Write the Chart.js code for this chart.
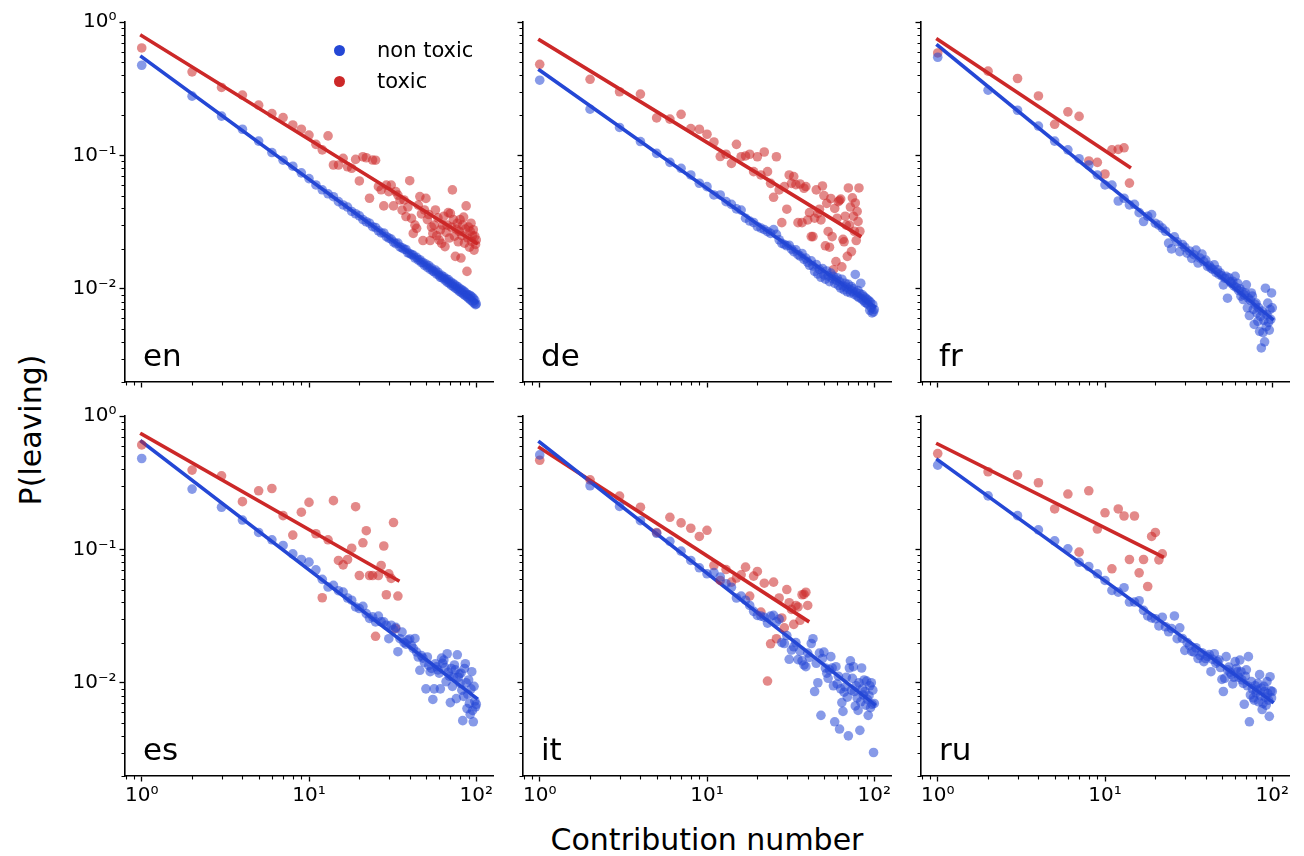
<!DOCTYPE html>
<html>
<head>
<meta charset="utf-8">
<script src="https://cdn.jsdelivr.net/npm/chart.js@4.4.0/dist/chart.umd.min.js"></script>
<style>
  body { margin: 0; background: #fff; }
  #fig { position: relative; width: 1304px; height: 856px; overflow: hidden; font-family: 'DejaVu Sans', sans-serif; color: #000; }
  #fig canvas { position: absolute; }
  .lang { position: absolute; font-size: 31px; line-height: 1; white-space: nowrap; }
  #ylabel { position: absolute; left: 31px; top: 430px; font-size: 30px; line-height: 1; white-space: nowrap; transform: translate(-50%, -50%) rotate(-90deg); }
  #xlabel { position: absolute; left: 707px; top: 825px; font-size: 30px; line-height: 1; white-space: nowrap; transform: translateX(-50%); }
  .leg-dot { position: absolute; width: 11px; height: 11px; border-radius: 50%; }
  .leg-text { position: absolute; font-size: 21px; line-height: 1; white-space: nowrap; }
</style>
</head>
<body>
<div id="fig">
  <div id="ylabel">P(leaving)</div>
  <div id="xlabel">Contribution number</div>
</div>
<script>
// panels, in reading order
const languages = ['en', 'de', 'fr', 'es', 'it', 'ru'];
const seriesNames = ['non toxic', 'toxic'];

// P(leaving) at contribution 1, 2, 3, ... (one value per contribution number)
const nonToxicEn = [
  .474, .278, .197, .157, .128, .105, .092, .083, .074, .067,
  .0600, .0552, .0515, .0490, .0450, .0425, .0410, .0380, .0365, .0352,
  .0330, .0318, .0310, .0292, .0288, .0272, .0262, .0262, .0246, .0240,
  .0236, .0224, .0218, .0220, .0206, .0203, .0198, .0197, .0186, .0184,
  .0180, .0179, .0170, .0172, .0164, .0165, .0157, .0158, .0150, .0153,
  .0145, .0149, .0140, .0143, .0136, .0134, .0138, .0129, .0133, .0126,
  .0122, .0126, .0120, .0123, .0116, .0119, .0112, .0117, .0110, .0113,
  .0106, .0110, .0104, .0108, .0101, .0105, .0099, .0103, .0096, .0100,
  .0094, .0098, .0092, .0096, .0090, .0094, .0088, .0091, .0086, .0090,
  .0084, .0089, .0082, .0087, .0080, .0085, .0078, .0082, .0076, .0077
];
const toxicEn = [
  .639, .423, .323, .283, .238, .206, .192, .169, .157, .142,
  .121, .110, .140, .0847, .0847, .095, .0822, .080, .0933, .0643,
  .0977, .0960, .0477, .0923, .0920, .0583, .0552, .0418, .0598, .0535,
  .0598, .0418, .0535, .0504, .0463, .0389, .0463, .0348, .0410, .0646,
  .0337, .0260, .0300, .0284, .0424, .0491, .0364, .0230, .0390, .0476,
  .0330, .0360, .0230, .0290, .0260, .0300, .0390, .0250, .0340, .0232,
  .0276, .0219, .0300, .0350, .0207, .0265, .0300, .0372, .0240, .0367,
  .0290, .0551, .0330, .0248, .0175, .0280, .0310, .0225, .0270, .0330,
  .0170, .0250, .0300, .0345, .0220, .0280, .0418, .0135, .0240, .0290,
  .0205, .0270, .0310, .0226, .0250, .0277, .0195, .0248, .0215, .0232
];
const nonToxicDe = [
  .366, .222, .162, .127, .1035, .0887, .080, .0713, .0618, .0583,
  .0505, .0505, .045, .0429, .0397, .0389, .0338, .0322, .0314, .0293,
  .0285, .0278, .0268, .0260, .0278, .0256, .0233, .0219, .0215, .0210,
  .0212, .0198, .0190, .0196, .0180, .0176, .0184, .0166, .0170, .0158,
  .0150, .0162, .0148, .0135, .0152, .0129, .0140, .0122, .0142, .0127,
  .0118, .0136, .0125, .0113, .0131, .0119, .0124, .0110, .0116, .0121,
  .0106, .0113, .0101, .0118, .0105, .0098, .0110, .0103, .0095, .0108,
  .0099, .0093, .0104, .0096, .0100, .0091, .0128, .0094, .0088, .0097,
  .0086, .0092, .0110, .0084, .0090, .0082, .0087, .0079, .0085, .0078,
  .0083, .0076, .0081, .0069, .0079, .0072, .0066, .0076, .0067, .0070
];
const toxicDe = [
  .482, .372, .300, .288, .191, .187, .203, .159, .157, .144,
  .126, .098, .102, .0871, .121, .0977, .099, .102, .0755, .0977,
  .0713, .106, .0755, .0617, .0485, .0977, .0551, .0313, .0584, .0395,
  .0713, .0617, .0694, .0603, .0313, .0610, .0313, .0567, .0584, .0328,
  .0372, .0246, .0246, .0338, .0551, .0368, .0395, .0328, .0590, .0500,
  .0210, .0437, .0269, .0205, .0475, .0246, .0139, .0400, .0160, .0338,
  .0450, .0460, .0470, .0146, .0235, .0225, .0350, .0300, .0175, .0570,
  .0300, .0410, .0190, .0480, .0350, .0270, .0440, .0230, .0380, .0320,
  .0570, .0270
];
const nonToxicFr = [
  .544, .308, .218, .166, .128, .110, .0944, .0847, .0713, .060,
  .0598, .0455, .0477, .0425, .0430, .0372, .0319, .0350, .0360, .0310,
  .0300, .0285, .0270, .0220, .0199, .0245, .0225, .0190, .0215, .0205,
  .0185, .0192, .0169, .0180, .0195, .0156, .0170, .0182, .0160, .0164,
  .0147, .0150, .0143, .0140, .0151, .0133, .0139, .0128, .0131, .0125,
  .0107, .0120, .0124, .0085, .0121, .0113, .0110, .0114, .0105, .0124,
  .0102, .0110, .0097, .0100, .0088, .0095, .0083, .0090, .0093, .0107,
  .0072, .0085, .0063, .0082, .0093, .0088, .0070, .0054, .0076, .0078,
  .0066, .0057, .0072, .0048, .0062, .0036, .0068, .0047, .0058, .0040,
  .0101, .0052, .0064, .0078, .0056, .0049, .0070, .0059, .0093, .0072
];
const toxicFr = [
  .586, .428, .377, .279, .171, .212, .196, .0908, .0887, .0725,
  .110, .111, .114, .062
];
const nonToxicEs = [
  .480, .283, .207, .166, .134, .118, .107, .0925, .0840, .0802,
  .0703, .0596, .0522, .0537, .0490, .0479, .0432, .0416, .0370, .0360,
  .0374, .0330, .0304, .0312, .0286, .0316, .0286, .0286, .0270, .0214,
  .0270, .0250, .0260, .0171, .0214, .0240, .0200, .0195, .0209, .0213,
  .0190, .0181, .0215, .0170, .0156, .0124, .0160, .0153, .0142, .0090,
  .0156, .0135, .0121, .0128, .0075, .0090, .0139, .0132, .0125, .0118,
  .0090, .0153, .0140, .0148, .0130, .0102, .0165, .0120, .0112, .0071,
  .0128, .0094, .0110, .0136, .0125, .0076, .0162, .0110, .0116, .0099,
  .0118, .0088, .0052, .0079, .0128, .0139, .0100, .0064, .0082, .0105,
  .0070, .0058, .0090, .0121, .0062, .0051, .0094, .0073, .0066, .0069
];
const toxicEs = [
  .607, .393, .356, .228, .275, .286, .179, .128, .190, .225,
  .131, .0434, .118, .232, .0826, .0766, .0840, .102, .209, .0637,
  .112, .138, .0637, .0637, .0223, .0637, .0757, .106, .0457, .0656,
  .0606, .159, .0255, .0447
];
const nonToxicIt = [
  .511, .300, .210, .164, .132, .115, .097, .0826, .0728, .0656,
  .0670, .0621, .0553, .0520, .0432, .0447, .0416, .0380, .0343, .0320,
  .0316, .0310, .0280, .0316, .0320, .0286, .0300, .0200, .0197, .0226,
  .0150, .0176, .0186, .0200, .0149, .0173, .0146, .0136, .0132, .0167,
  .0155, .0197, .0214, .0086, .0140, .0100, .0167, .0057, .0152, .0170,
  .0129, .0118, .0108, .0125, .0157, .0129, .0095, .0051, .0132, .0098,
  .0112, .0045, .0090, .0071, .0061, .0085, .0093, .0110, .0078, .0040,
  .0129, .0146, .0088, .0108, .0132, .0086, .0067, .0095, .0077, .0062,
  .0100, .0044, .0072, .0129, .0090, .0081, .0105, .0086, .0068, .0103,
  .0075, .0057, .0080, .0095, .0065, .0100, .0069, .0088, .0030, .0070
];
const toxicIt = [
  .466, .332, .251, .207, .134, .174, .158, .144, .125, .139,
  .0757, .0585, .0706, .0568, .0610, .0645, .0736, .0447, .0630, .0683,
  .0339, .0558, .0103, .0196, .0568, .0214, .0432, .0306, .0258, .0500,
  .0398, .0355, .0274, .0380, .0370, .0294, .0457, .0460, .0477, .0380
];
const nonToxicRu = [
  .428, .252, .179, .140, .116, .101, .080, .0744, .0656, .0585,
  .0492, .0478, .0516, .0403, .0403, .0412, .0349, .0317, .0306, .0302,
  .0267, .0310, .0263, .0241, .0255, .0317, .0214, .0258, .0215, .0175,
  .0200, .0190, .0172, .0170, .0183, .0152, .0160, .0168, .0144, .0152,
  .0158, .0163, .0121, .0150, .0165, .0140, .0144, .0148, .0130, .0106,
  .0086, .0108, .0157, .0125, .0131, .0120, .0115, .0098, .0110, .0144,
  .0128, .0121, .0110, .0148, .0121, .0105, .0099, .0069, .0112, .0125,
  .0095, .0157, .0051, .0081, .0102, .0090, .0077, .0074, .0095, .0084,
  .0088, .0099, .0072, .0115, .0080, .0091, .0063, .0070, .0094, .0086,
  .0078, .0068, .0102, .0083, .0074, .0056, .0111, .0087, .0077, .0086
];
const toxicRu = [
  .523, .382, .362, .316, .201, .260, .0953, .275, .142, .188,
  .0715, .201, .178, .0840, .178, .0667, .0840, .0527, .125, .134,
  .0835, .0925
];

// power-law fits: value at contribution 1 and at the last contribution of the series
const fitNonToxic = [[0.547, 0.0080], [0.435, 0.00735], [0.667, 0.00594], [0.643, 0.00768], [0.636, 0.0069], [0.469, 0.0072]];
const fitToxic = [[0.79, 0.022], [0.731, 0.0249], [0.738, 0.082], [0.731, 0.0586], [0.578, 0.0291], [0.616, 0.0885]];

// axes
const xMajorTicks = [1, 10, 100];
const xTickLabels = ['10⁰', '10¹', '10²'];
const yMajorTicks = [1, 0.1, 0.01];
const yTickLabels = ['10⁰', '10⁻¹', '10⁻²'];

const nonToxic = { en: nonToxicEn, de: nonToxicDe, fr: nonToxicFr, es: nonToxicEs, it: nonToxicIt, ru: nonToxicRu };
const toxic = { en: toxicEn, de: toxicDe, fr: toxicFr, es: toxicEs, it: toxicIt, ru: toxicRu };

// layout (pixels)
const colLeft = [125, 523, 921];
const rowTop = [21, 415];
const PLOT_W = 368, PLOT_H = 361;
const Y_AXIS_W = 70, X_AXIS_H = 36, PAD = 14;
const X_MIN = Math.pow(10, -0.1), X_MAX = Math.pow(10, 2.1);
const Y_MIN = 0.002, Y_MAX = 1;

const blue = 'rgb(36, 71, 213)';
const red = 'rgb(204, 40, 40)';
const blueA = 'rgba(36, 71, 213, 0.55)';
const redA = 'rgba(204, 40, 40, 0.55)';
const FONT = 'DejaVu Sans';

function logTicks(fromExp, toExp, lo, hi) {
    const t = [];
    for (let e = fromExp; e <= toExp; e++) {
        for (let k = 1; k <= 9; k++) {
            const v = k * Math.pow(10, e);
            if (v >= lo * 0.999 && v <= hi * 1.001) t.push({ value: v, major: k === 1 });
        }
    }
    return t;
}

function labelFor(v, majors, labels) {
    for (let i = 0; i < majors.length; i++) {
        if (Math.abs(Math.log10(v) - Math.log10(majors[i])) < 1e-6) return labels[i];
    }
    return '';
}

function toPoints(values) {
    return values.map((y, i) => ({ x: i + 1, y: y }));
}

// short minor ticks, like matplotlib
const minorTicks = {
    id: 'minorTicks',
    afterDraw(chart) {
        const ctx = chart.ctx;
        ctx.save();
        ctx.strokeStyle = '#000';
        ctx.lineWidth = 1.1;
        ctx.beginPath();
        const xs = chart.scales.x, ys = chart.scales.y;
        xs.ticks.forEach(t => {
            if (t.major) return;
            const p = Math.round(xs.getPixelForValue(t.value)) + 0.5;
            ctx.moveTo(p, chart.chartArea.bottom);
            ctx.lineTo(p, chart.chartArea.bottom + 3.5);
        });
        ys.ticks.forEach(t => {
            if (t.major) return;
            const p = Math.round(ys.getPixelForValue(t.value)) + 0.5;
            ctx.moveTo(chart.chartArea.left, p);
            ctx.lineTo(chart.chartArea.left - 3.5, p);
        });
        ctx.stroke();
        ctx.restore();
    }
};

const fig = document.getElementById('fig');

function makePanel(i) {
    const col = i % 3, row = Math.floor(i / 3);
    const lang = languages[i];
    const nt = nonToxic[lang], tx = toxic[lang];

    const canvas = document.createElement('canvas');
    canvas.width = Y_AXIS_W + PLOT_W + PAD;
    canvas.height = PAD + PLOT_H + X_AXIS_H;
    canvas.style.left = (colLeft[col] - Y_AXIS_W) + 'px';
    canvas.style.top = (rowTop[row] - PAD) + 'px';
    fig.appendChild(canvas);

    const tickGrid = {
        display: true,
        drawOnChartArea: false,
        drawTicks: true,
        tickLength: 5.5,
        tickWidth: 1.3,
        tickColor: ctx => (ctx.tick && ctx.tick.major ? '#000' : 'rgba(0,0,0,0)')
    };

    new Chart(canvas, {
        type: 'scatter',
        data: {
            datasets: [
                { label: seriesNames[0], data: toPoints(nt), pointBackgroundColor: blueA, backgroundColor: blueA, pointBorderWidth: 0, pointRadius: 4.8 },
                { label: seriesNames[1], data: toPoints(tx), pointBackgroundColor: redA, backgroundColor: redA, pointBorderWidth: 0, pointRadius: 4.8 },
                { label: seriesNames[0] + ' fit', data: [{ x: 1, y: fitNonToxic[i][0] }, { x: nt.length, y: fitNonToxic[i][1] }],
                  showLine: true, borderColor: blue, borderWidth: 3.6, borderCapStyle: 'square', pointRadius: 0, fill: false },
                { label: seriesNames[1] + ' fit', data: [{ x: 1, y: fitToxic[i][0] }, { x: tx.length, y: fitToxic[i][1] }],
                  showLine: true, borderColor: red, borderWidth: 3.6, borderCapStyle: 'square', pointRadius: 0, fill: false }
            ]
        },
        options: {
            responsive: false,
            animation: false,
            devicePixelRatio: 1,
            layout: { padding: { top: PAD, right: PAD, left: 0, bottom: 0 } },
            plugins: { legend: { display: false }, tooltip: { enabled: false } },
            scales: {
                x: {
                    type: 'logarithmic',
                    min: X_MIN,
                    max: X_MAX,
                    afterBuildTicks: s => { s.ticks = logTicks(-1, 2, X_MIN, X_MAX); },
                    afterFit: s => { s.height = X_AXIS_H; },
                    border: { display: true, color: '#000', width: 1.6 },
                    grid: tickGrid,
                    ticks: {
                        autoSkip: false, maxRotation: 0, minRotation: 0, padding: 2,
                        color: '#000', font: { family: FONT, size: 20 },
                        callback: v => (row === 1 ? labelFor(v, xMajorTicks, xTickLabels) : '')
                    }
                },
                y: {
                    type: 'logarithmic',
                    min: Y_MIN,
                    max: Y_MAX,
                    afterBuildTicks: s => { s.ticks = logTicks(-3, 0, Y_MIN, Y_MAX); },
                    afterFit: s => { s.width = Y_AXIS_W; },
                    border: { display: true, color: '#000', width: 1.6 },
                    grid: tickGrid,
                    ticks: {
                        autoSkip: false, padding: 3,
                        color: '#000', font: { family: FONT, size: 20 },
                        callback: v => (col === 0 ? labelFor(v, yMajorTicks, yTickLabels) : '')
                    }
                }
            }
        },
        plugins: [minorTicks]
    });

    // panel name in the lower left corner
    const name = document.createElement('div');
    name.className = 'lang';
    name.textContent = lang;
    name.style.left = (colLeft[col] + 18) + 'px';
    name.style.top = (rowTop[row] + 319) + 'px';
    fig.appendChild(name);
}

languages.forEach((lang, i) => makePanel(i));

// legend inside the first panel
[[blue, seriesNames[0], 50], [red, seriesNames[1], 81]].forEach(([color, text, cy]) => {
    const dot = document.createElement('div');
    dot.className = 'leg-dot';
    dot.style.background = color;
    dot.style.left = (339 - 5.5) + 'px';
    dot.style.top = (cy - 5.5) + 'px';
    fig.appendChild(dot);
    const t = document.createElement('div');
    t.className = 'leg-text';
    t.textContent = text;
    t.style.left = '377px';
    t.style.top = (cy - 10.5) + 'px';
    fig.appendChild(t);
});
</script>
</body>
</html>
